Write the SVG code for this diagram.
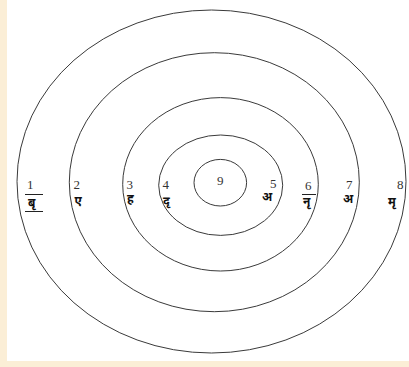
<svg xmlns="http://www.w3.org/2000/svg" width="409" height="367" viewBox="0 0 409 367">
<style>
.ring{fill:none;stroke:#3a3a3a;stroke-width:1}
.num{font-family:"Liberation Serif","Times New Roman",serif;font-size:13px;fill:#333}
.dev{font-family:"Noto Sans Devanagari","Noto Sans","Lohit Devanagari",sans-serif;font-size:12px;font-weight:bold;fill:#111}
.bar{stroke:#222;stroke-width:1}
</style>
<rect x="0" y="0" width="409" height="367" fill="#fbeed6"/>
<rect x="7" y="0" width="402" height="361" fill="#ffffff"/>
<g id="rings">
<ellipse id="ring1" class="ring" cx="211.5" cy="181.5" rx="194.5" ry="171.5"/>
<ellipse id="ring2" class="ring" cx="214.3" cy="182.2" rx="145" ry="129.5"/>
<ellipse id="ring3" class="ring" cx="220.5" cy="184.3" rx="97.8" ry="86.7"/>
<ellipse id="ring4" class="ring" cx="220.7" cy="185.2" rx="62" ry="50.2"/>
<ellipse id="ring5" class="ring" cx="220.3" cy="182.7" rx="26.3" ry="23.3"/>
</g>
<g id="labels">
<g id="l1"><text class="num" x="27" y="189">1</text><line class="bar" x1="25" y1="194.5" x2="43" y2="194.5"/><text class="dev" x="28" y="207">बृ</text><line class="bar" x1="25" y1="211.5" x2="43" y2="211.5"/></g>
<g id="l2"><text class="num" x="73.5" y="189">2</text><text class="dev" x="74.5" y="205">ए</text></g>
<g id="l3"><text class="num" x="126.5" y="189">3</text><text class="dev" x="127" y="203">ह</text></g>
<g id="l4"><text class="num" x="162.5" y="189">4</text><text class="dev" x="163" y="205">दृ</text></g>
<g id="l5"><text class="num" x="270" y="188">5</text><text class="dev" x="262" y="201">अ</text></g>
<g id="l6"><text class="num" x="305" y="190">6</text><line class="bar" x1="302" y1="194.5" x2="316" y2="194.5"/><text class="dev" x="303" y="206">नृ</text></g>
<g id="l7"><text class="num" x="346" y="189">7</text><text class="dev" x="343" y="203">अ</text></g>
<g id="l8"><text class="num" x="397" y="189">8</text><text class="dev" x="388" y="206">मृ</text></g>
<g id="l9"><text class="num" x="217" y="185">9</text></g>
</g>
</svg>
